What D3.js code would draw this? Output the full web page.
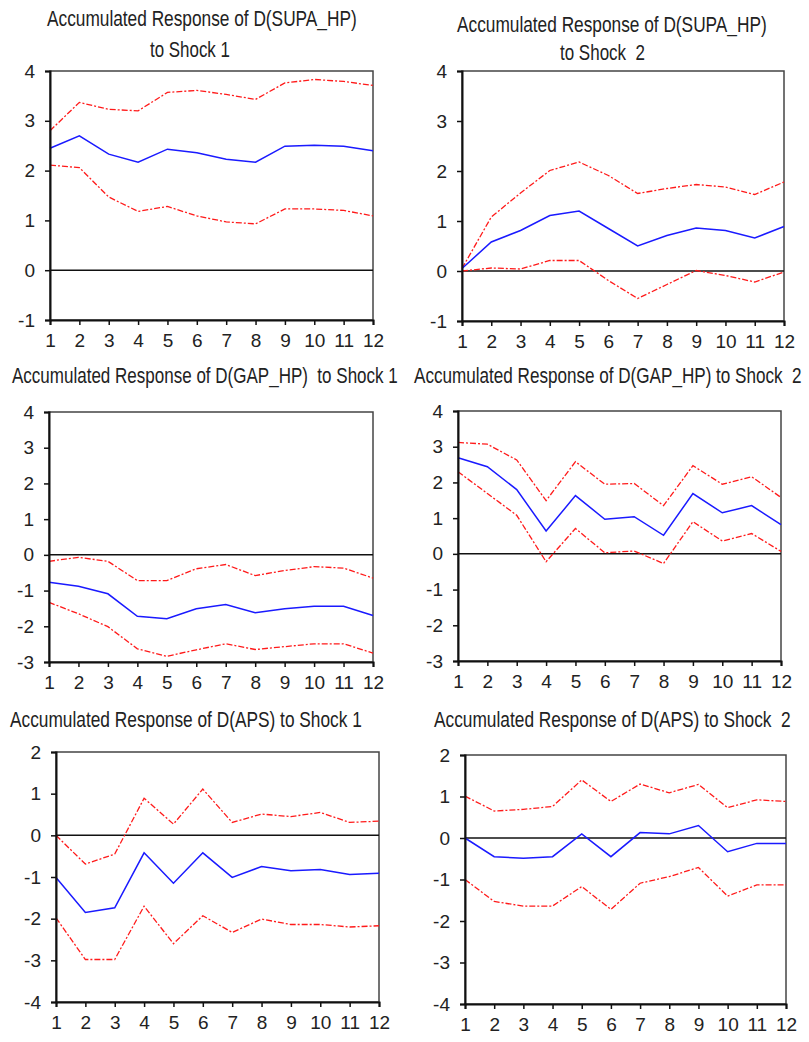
<!DOCTYPE html>
<html>
<head>
<meta charset="utf-8">
<script src="https://cdn.jsdelivr.net/npm/d3@7"></script>
<style>
  body { margin: 0; background: #fff; }
  svg { display: block; font-family: "Liberation Sans", Arial, sans-serif; }
  .title { fill: #222; white-space: pre; }
  .tick text { fill: #222; }
</style>
</head>
<body>
<div id="app"></div>
<script>
// DATA
const horizons = [1, 2, 3, 4, 5, 6, 7, 8, 9, 10, 11, 12];

const supaS1 = [2.45, 2.70, 2.33, 2.17, 2.43, 2.36, 2.23, 2.17, 2.49, 2.51, 2.49, 2.40];
const supaS1Up = [2.80, 3.37, 3.23, 3.20, 3.57, 3.61, 3.53, 3.43, 3.76, 3.83, 3.79, 3.71];
const supaS1Lo = [2.11, 2.06, 1.47, 1.18, 1.28, 1.09, 0.97, 0.93, 1.23, 1.23, 1.20, 1.09];

const supaS2 = [0.05, 0.58, 0.81, 1.11, 1.20, 0.85, 0.50, 0.71, 0.86, 0.81, 0.66, 0.89];
const supaS2Up = [0.05, 1.08, 1.56, 2.01, 2.18, 1.91, 1.55, 1.65, 1.73, 1.68, 1.53, 1.78];
const supaS2Lo = [0.00, 0.06, 0.04, 0.21, 0.21, -0.19, -0.55, -0.27, 0.01, -0.09, -0.22, -0.02];

const gapS1 = [-0.77, -0.88, -1.09, -1.72, -1.79, -1.51, -1.39, -1.62, -1.51, -1.44, -1.44, -1.70];
const gapS1Up = [-0.18, -0.07, -0.18, -0.72, -0.72, -0.39, -0.27, -0.58, -0.44, -0.33, -0.37, -0.65];
const gapS1Lo = [-1.33, -1.65, -2.01, -2.63, -2.84, -2.66, -2.49, -2.65, -2.57, -2.49, -2.49, -2.75];

const gapS2 = [2.69, 2.44, 1.80, 0.64, 1.63, 0.97, 1.04, 0.52, 1.69, 1.15, 1.35, 0.82];
const gapS2Up = [3.12, 3.07, 2.63, 1.49, 2.58, 1.95, 1.97, 1.35, 2.47, 1.95, 2.16, 1.58];
const gapS2Lo = [2.30, 1.69, 1.08, -0.22, 0.71, 0.03, 0.08, -0.27, 0.90, 0.36, 0.57, 0.07];

const apsS1 = [-1.01, -1.85, -1.74, -0.42, -1.15, -0.42, -1.01, -0.75, -0.85, -0.82, -0.94, -0.91];
const apsS1Up = [0.00, -0.69, -0.45, 0.89, 0.27, 1.11, 0.31, 0.51, 0.45, 0.55, 0.31, 0.34];
const apsS1Lo = [-1.98, -2.98, -2.98, -1.70, -2.60, -1.93, -2.33, -2.01, -2.14, -2.14, -2.20, -2.17];

const apsS2 = [0.00, -0.45, -0.49, -0.45, 0.10, -0.45, 0.13, 0.10, 0.30, -0.33, -0.13, -0.13];
const apsS2Up = [1.01, 0.65, 0.69, 0.76, 1.40, 0.88, 1.30, 1.09, 1.29, 0.73, 0.92, 0.88];
const apsS2Lo = [-1.00, -1.53, -1.64, -1.64, -1.17, -1.72, -1.09, -0.93, -0.71, -1.40, -1.13, -1.13];

const ticks4 = [-1, 0, 1, 2, 3, 4];
const ticksGap = [-3, -2, -1, 0, 1, 2, 3, 4];
const ticksAps = [-4, -3, -2, -1, 0, 1, 2];

// panels: data + where they sit on the page
const panels = [
  { mid: supaS1, up: supaS1Up, lo: supaS1Lo, yTicks: ticks4,
    box: [50, 373, 71, 320],
    titles: [["Accumulated Response of D(SUPA_HP)", 47, 26, 310], ["to Shock 1", 150, 57, 80]] },
  { mid: supaS2, up: supaS2Up, lo: supaS2Lo, yTicks: ticks4,
    box: [462, 784, 71, 321],
    titles: [["Accumulated Response of D(SUPA_HP)", 457, 32, 310], ["to Shock  2", 560, 60, 85]] },
  { mid: gapS1, up: gapS1Up, lo: gapS1Lo, yTicks: ticksGap,
    box: [49, 373, 412, 662],
    titles: [["Accumulated Response of D(GAP_HP)  to Shock 1", 12, 383, 386]] },
  { mid: gapS2, up: gapS2Up, lo: gapS2Lo, yTicks: ticksGap,
    box: [458, 781, 411, 661],
    titles: [["Accumulated Response of D(GAP_HP) to Shock  2", 414, 383, 388]] },
  { mid: apsS1, up: apsS1Up, lo: apsS1Lo, yTicks: ticksAps,
    box: [56, 379, 752, 1002],
    titles: [["Accumulated Response of D(APS) to Shock 1", 10, 727, 352]] },
  { mid: apsS2, up: apsS2Up, lo: apsS2Lo, yTicks: ticksAps,
    box: [465, 786, 755, 1004],
    titles: [["Accumulated Response of D(APS) to Shock  2", 434, 727, 357]] }
];

const width = 809, height = 1042;

const svg = d3.select('#app').append('svg')
  .attr('width', width)
  .attr('height', height)
  .attr('viewBox', [0, 0, width, height]);

panels.forEach(p => {
  const [x0, x1, y0, y1] = p.box;
  const yExt = d3.extent(p.yTicks);

  const x = d3.scaleLinear().domain([1, 12]).range([x0, x1]);
  const y = d3.scaleLinear().domain(yExt).range([y1, y0]);

  const g = svg.append('g');

  // titles: narrow the glyphs so the line fits the same width as the original
  p.titles.forEach(([txt, tx, ty, tl]) => {
    const t = g.append('text')
      .attr('class', 'title')
      .attr('font-size', 22)
      .text(txt);
    const w = t.node().getComputedTextLength();
    t.attr('transform', `translate(${tx},${ty}) scale(${tl / w},1)`);
  });

  // frame
  g.append('rect')
    .attr('x', x0).attr('y', y0)
    .attr('width', x1 - x0).attr('height', y1 - y0)
    .attr('fill', 'none')
    .attr('stroke', '#444')
    .attr('stroke-width', 1.5);

  // zero line
  g.append('line')
    .attr('x1', x0).attr('x2', x1)
    .attr('y1', y(0)).attr('y2', y(0))
    .attr('stroke', '#111')
    .attr('stroke-width', 1.5);

  const line = d3.line()
    .x((d, i) => x(horizons[i]))
    .y(d => y(d));

  [p.up, p.lo].forEach(band => {
    g.append('path')
      .datum(band)
      .attr('d', line)
      .attr('fill', 'none')
      .attr('stroke', '#ff1a1a')
      .attr('stroke-width', 1.3)
      .attr('stroke-dasharray', '6,2,2,2');
  });

  g.append('path')
    .datum(p.mid)
    .attr('d', line)
    .attr('fill', 'none')
    .attr('stroke', '#1a1aff')
    .attr('stroke-width', 1.5);

  // axes
  const yAxis = g.append('g')
    .attr('transform', `translate(${x0},0)`)
    .call(d3.axisLeft(y).tickValues(p.yTicks).tickSize(5).tickPadding(10).tickFormat(d3.format('d')));

  const xAxis = g.append('g')
    .attr('transform', `translate(0,${y1})`)
    .call(d3.axisBottom(x).tickValues(horizons).tickSize(5).tickPadding(9).tickFormat(d3.format('d')));

  [yAxis, xAxis].forEach(a => {
    a.attr('font-family', null).attr('font-size', 19);
    a.select('.domain').attr('stroke', '#111').attr('stroke-width', 2);
    a.selectAll('.tick line').attr('stroke', '#111').attr('stroke-width', 1.5);
  });
  yAxis.selectAll('.tick text').text(d => d < 0 ? '-' + Math.abs(d) : d);
});
</script>
</body>
</html>
